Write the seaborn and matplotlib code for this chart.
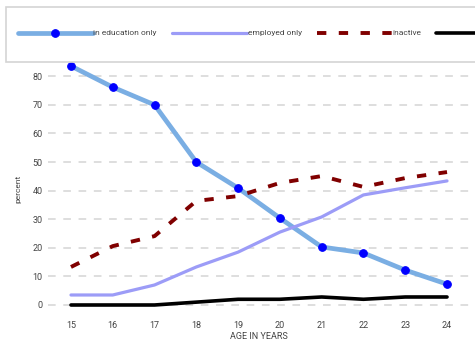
import matplotlib
matplotlib.use("Agg")
import matplotlib.pyplot as plt
import matplotlib.patches as mpatches
import pandas as pd
import seaborn as sns

# values
ages = [15, 16, 17, 18, 19, 20, 21, 22, 23, 24]
education_only = [83.6, 76.2, 70.0, 50.0, 40.9, 30.4, 20.3, 18.2, 12.2, 7.3]
employed_only = [3.5, 3.5, 7.0, 13.3, 18.5, 25.5, 30.8, 38.5, 41.0, 43.4]
inactive = [13.3, 20.6, 24.1, 36.4, 38.1, 42.7, 45.1, 41.3, 44.4, 46.5]
other = [0.0, 0.0, 0.0, 1.0, 2.0, 2.0, 2.8, 2.0, 2.8, 2.8]

df = pd.DataFrame({
    "age": ages,
    "in education only": education_only,
    "employed only": employed_only,
    "inactive": inactive,
    "other": other,
})

sns.set_theme(style="white")
plt.rcParams["font.family"] = ["Roboto", "DejaVu Sans"]

fig = plt.figure(figsize=(4.75, 3.4), dpi=100)
ax = fig.add_axes([48 / 475, 1 - 315 / 340, 422 / 475, 253 / 340])

sns.lineplot(data=df, x="age", y="in education only", ax=ax, color="#7aaee3",
             linewidth=3.4, marker="o", markersize=5.5, markerfacecolor="#0000ff",
             markeredgecolor="#0000ff", label="in education only")
sns.lineplot(data=df, x="age", y="employed only", ax=ax, color="#9c9cf7",
             linewidth=2.3, label="employed only")
sns.lineplot(data=df, x="age", y="inactive", ax=ax, color="#800000",
             linewidth=2.8, label="inactive")
ax.lines[-1].set_dashes([2.4, 3.2])
sns.lineplot(data=df, x="age", y="other", ax=ax, color="black",
             linewidth=2.6, label="other")

ax.set_xlim(14.45, 24.55)
ax.set_ylim(-3.5, 85)
ax.set_xticks(ages)
ax.set_yticks(range(0, 90, 10))
for s in ax.spines.values():
    s.set_visible(False)
ax.yaxis.grid(True, color="#d4d4d4", linestyle=(0, (5, 5)), linewidth=1.1)
ax.xaxis.grid(False)
ax.tick_params(axis="both", length=0, labelsize=6.5, colors="#444444", pad=4)
ax.set_xlabel("AGE IN YEARS", fontsize=6.5, color="#444444", labelpad=2)
ax.set_ylabel("percent", fontsize=6, color="#444444", labelpad=8)

# legend box across the top (last entry runs off the right edge, as in the source)
ax.get_legend().remove()
box = mpatches.Rectangle((6 / 475, 1 - 62 / 340), 480 / 475, 55 / 340,
                         transform=fig.transFigure, facecolor="white",
                         edgecolor="#d4d4d4", linewidth=1.2, zorder=5)
fig.patches.append(box)
handles, labels = ax.get_legend_handles_labels()
labels[-1] = ""
leg = fig.legend(handles, labels, loc="center left", bbox_to_anchor=(10 / 475, 1 - 33 / 340),
                 ncol=4, frameon=False, fontsize=6, handlelength=9.0,
                 handletextpad=0.1, columnspacing=1.8, numpoints=1)
leg.set_zorder(6)
for t in leg.get_texts():
    t.set_color("#444444")

fig.savefig("out.png", dpi=100)
